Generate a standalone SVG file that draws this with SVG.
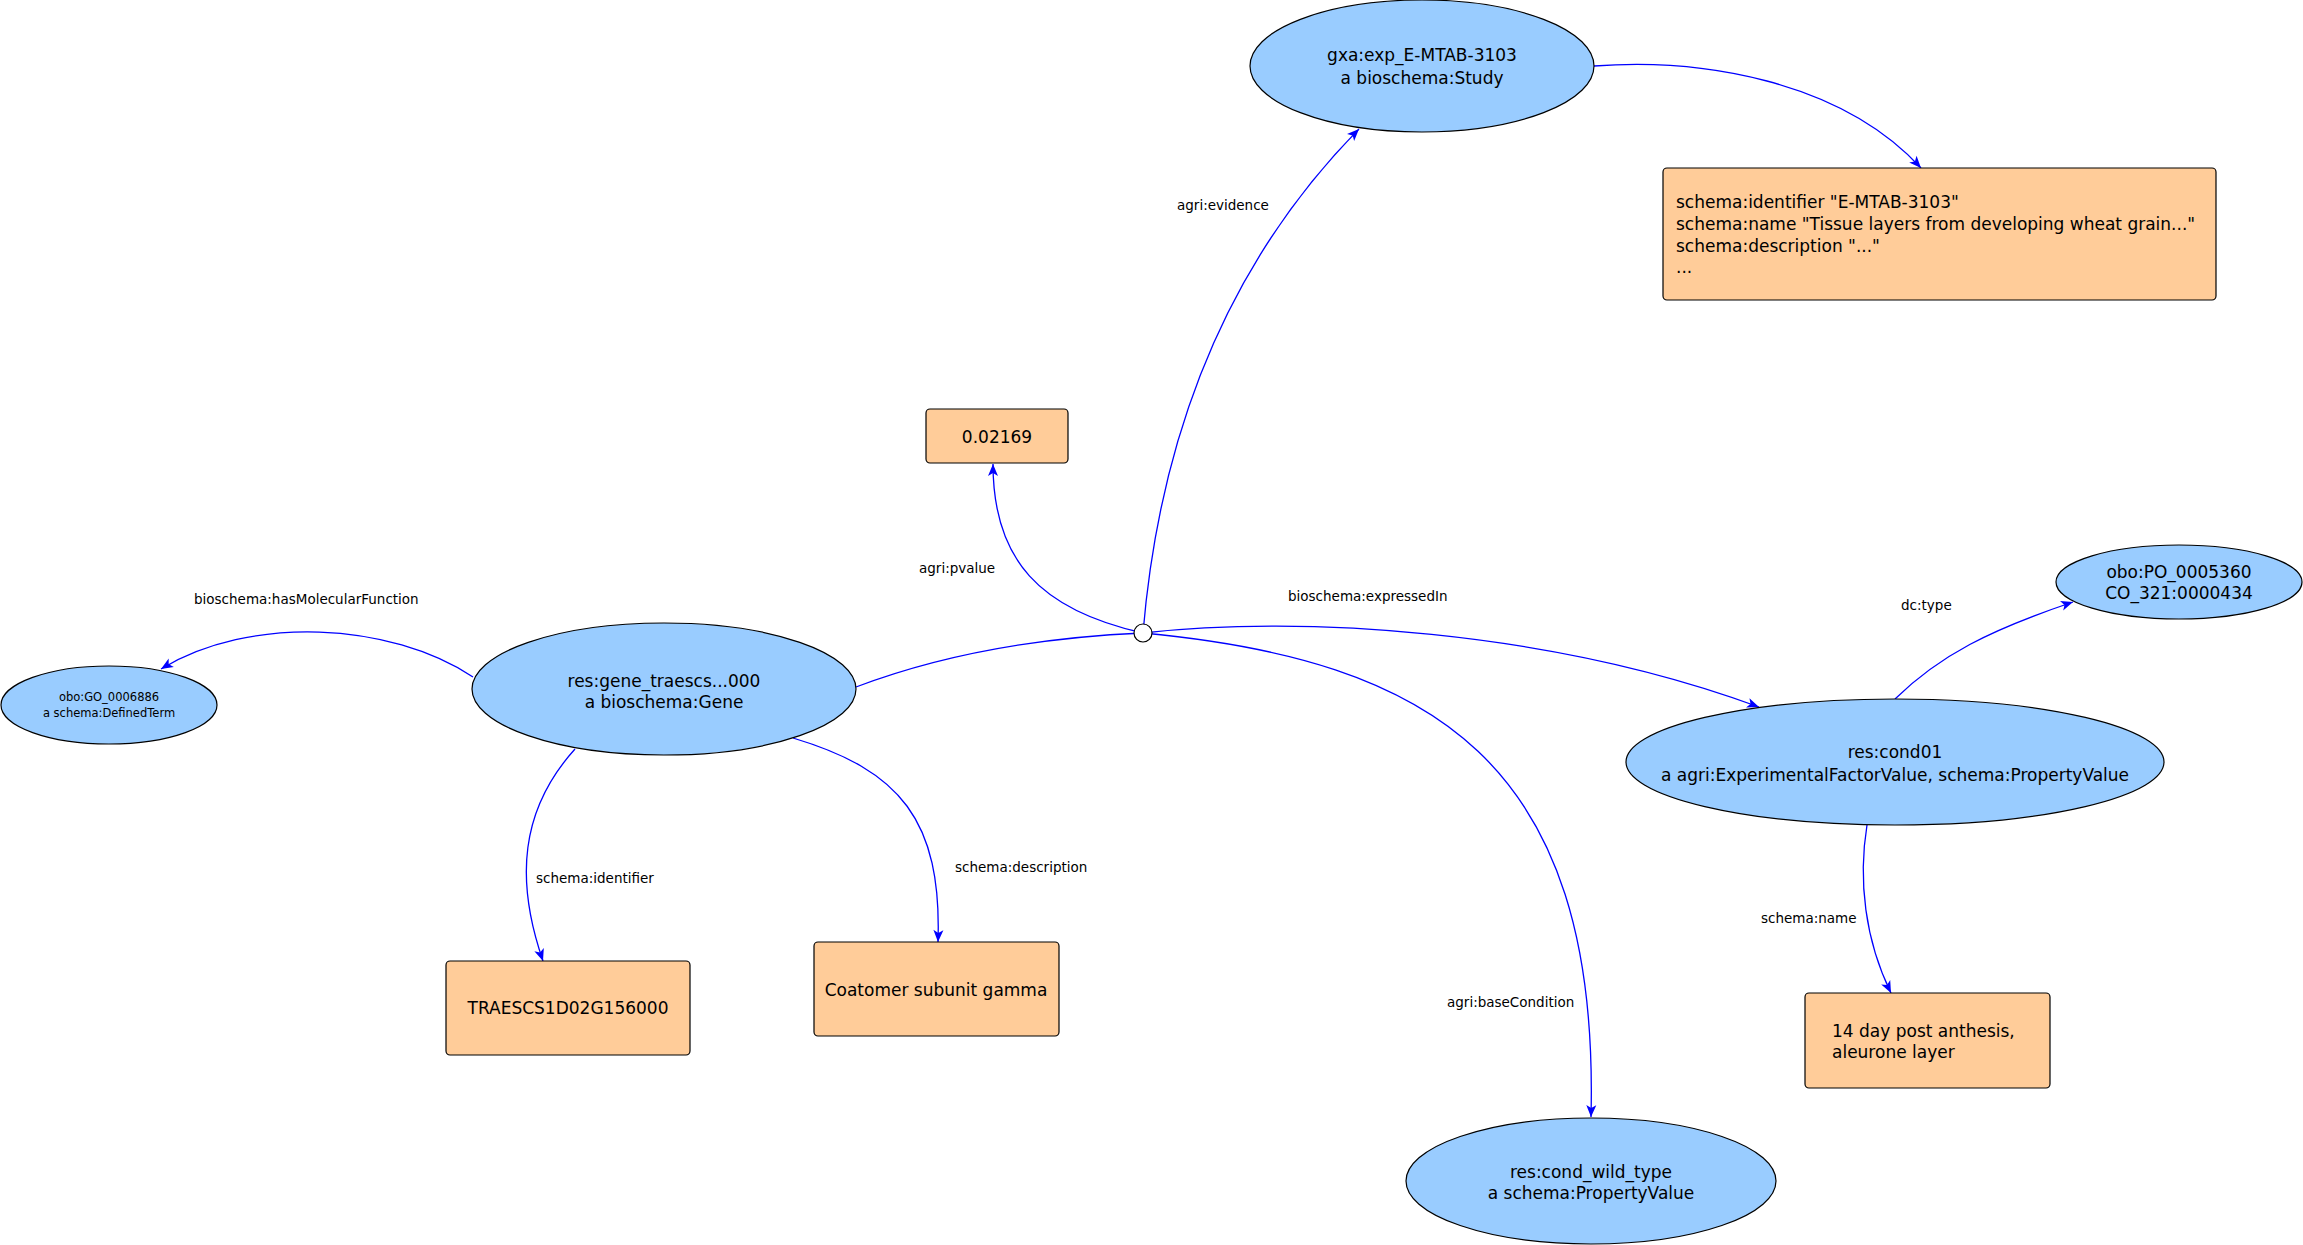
<svg xmlns="http://www.w3.org/2000/svg" width="2303" height="1245" viewBox="0 0 2303 1245">
<style>
.bg{fill:#ffffff}
.ell{fill:#99ccff;stroke:#000000;stroke-width:1.2}
.box{fill:#ffcc99;stroke:#000000;stroke-width:1.2}
.edge{fill:none;stroke:#0000ff;stroke-width:1.3}
.t{font-family:"DejaVu Sans","Liberation Sans",sans-serif;font-size:17px;fill:#000000}
.c{text-anchor:middle}
.sm{font-size:11.5px}
.lbl{font-family:"DejaVu Sans","Liberation Sans",sans-serif;font-size:13.5px;fill:#000000}
.blank{fill:#ffffff;stroke:#000000;stroke-width:1.2}
</style>
<defs>
<marker id="arr" viewBox="-1 -6 14 12" refX="12" refY="0" markerWidth="14" markerHeight="12" markerUnits="userSpaceOnUse" orient="auto">
<path d="M0,-5 L12,0 L0,5 L3,0 z" fill="#0000ff"/>
</marker>
</defs>
<rect class="bg" x="0" y="0" width="2303" height="1245"/>

<g id="connectors">
<path id="e-molfunc" class="edge" d="M473,677 C390,622 250,615 161,669" marker-end="url(#arr)"/>
<path id="e-gene-blank" class="edge" d="M856,687 Q980,640 1143,633"/>
<path id="e-pvalue" class="edge" d="M1143,633 C1040,610 993,560 993,464" marker-end="url(#arr)"/>
<path id="e-evidence" class="edge" d="M1143,633 C1160,430 1230,260 1359,129" marker-end="url(#arr)"/>
<path id="e-expressed" class="edge" d="M1143,633 C1300,615 1550,630 1759,707" marker-end="url(#arr)"/>
<path id="e-basecond" class="edge" d="M1143,633 C1430,660 1600,760 1591,1117" marker-end="url(#arr)"/>
<path id="e-study-props" class="edge" d="M1594,66 C1700,58 1840,80 1921,168" marker-end="url(#arr)"/>
<path id="e-identifier" class="edge" d="M575,749 C520,810 515,880 543,961" marker-end="url(#arr)"/>
<path id="e-description" class="edge" d="M793,738 C900,770 942,820 938,942" marker-end="url(#arr)"/>
<path id="e-dctype" class="edge" d="M1895,699 C1940,655 1990,630 2073,602" marker-end="url(#arr)"/>
<path id="e-name" class="edge" d="M1867,825 C1858,880 1865,940 1891,993" marker-end="url(#arr)"/>
<text class="lbl" x="1177" y="210">agri:evidence</text>
<text class="lbl" x="194" y="604">bioschema:hasMolecularFunction</text>
<text class="lbl" x="919" y="573">agri:pvalue</text>
<text class="lbl" x="1288" y="601">bioschema:expressedIn</text>
<text class="lbl" x="1901" y="610">dc:type</text>
<text class="lbl" x="536" y="883">schema:identifier</text>
<text class="lbl" x="955" y="872">schema:description</text>
<text class="lbl" x="1761" y="923">schema:name</text>
<text class="lbl" x="1447" y="1007">agri:baseCondition</text>
</g>

<g id="n-study">
<ellipse class="ell" cx="1422" cy="66" rx="172" ry="66"/>
<text class="t c" x="1422" y="61">gxa:exp_E-MTAB-3103</text>
<text class="t c" x="1422" y="84">a bioschema:Study</text>
</g>

<g id="n-study-props">
<rect class="box" x="1663" y="168" width="553" height="132" rx="4"/>
<text class="t" x="1676" y="208">schema:identifier "E-MTAB-3103"</text>
<text class="t" x="1676" y="230">schema:name "Tissue layers from developing wheat grain..."</text>
<text class="t" x="1676" y="252">schema:description "..."</text>
<text class="t" x="1676" y="273">...</text>
</g>

<g id="n-pvalue">
<rect class="box" x="926" y="409" width="142" height="54" rx="4"/>
<text class="t c" x="997" y="443">0.02169</text>
</g>

<g id="n-gene">
<ellipse class="ell" cx="664" cy="689" rx="192" ry="66"/>
<text class="t c" x="664" y="687">res:gene_traescs...000</text>
<text class="t c" x="664" y="708">a bioschema:Gene</text>
</g>

<g id="n-go">
<ellipse class="ell" cx="109" cy="705" rx="108" ry="39"/>
<text class="t c sm" x="109" y="701">obo:GO_0006886</text>
<text class="t c sm" x="109" y="717">a schema:DefinedTerm</text>
</g>

<g id="n-blank">
<circle class="blank" cx="1143" cy="633" r="9"/>
</g>

<g id="n-po">
<ellipse class="ell" cx="2179" cy="582" rx="123" ry="37"/>
<text class="t c" x="2179" y="578">obo:PO_0005360</text>
<text class="t c" x="2179" y="599">CO_321:0000434</text>
</g>

<g id="n-cond01">
<ellipse class="ell" cx="1895" cy="762" rx="269" ry="63"/>
<text class="t c" x="1895" y="758">res:cond01</text>
<text class="t c" x="1895" y="781">a agri:ExperimentalFactorValue, schema:PropertyValue</text>
</g>

<g id="n-cond-name">
<rect class="box" x="1805" y="993" width="245" height="95" rx="4"/>
<text class="t" x="1832" y="1037">14 day post anthesis,</text>
<text class="t" x="1832" y="1058">aleurone layer</text>
</g>

<g id="n-wild">
<ellipse class="ell" cx="1591" cy="1181" rx="185" ry="63"/>
<text class="t c" x="1591" y="1178">res:cond_wild_type</text>
<text class="t c" x="1591" y="1199">a schema:PropertyValue</text>
</g>

<g id="n-identifier">
<rect class="box" x="446" y="961" width="244" height="94" rx="4"/>
<text class="t c" x="568" y="1014">TRAESCS1D02G156000</text>
</g>

<g id="n-description">
<rect class="box" x="814" y="942" width="245" height="94" rx="4"/>
<text class="t c" x="936" y="996">Coatomer subunit gamma</text>
</g>
</svg>
